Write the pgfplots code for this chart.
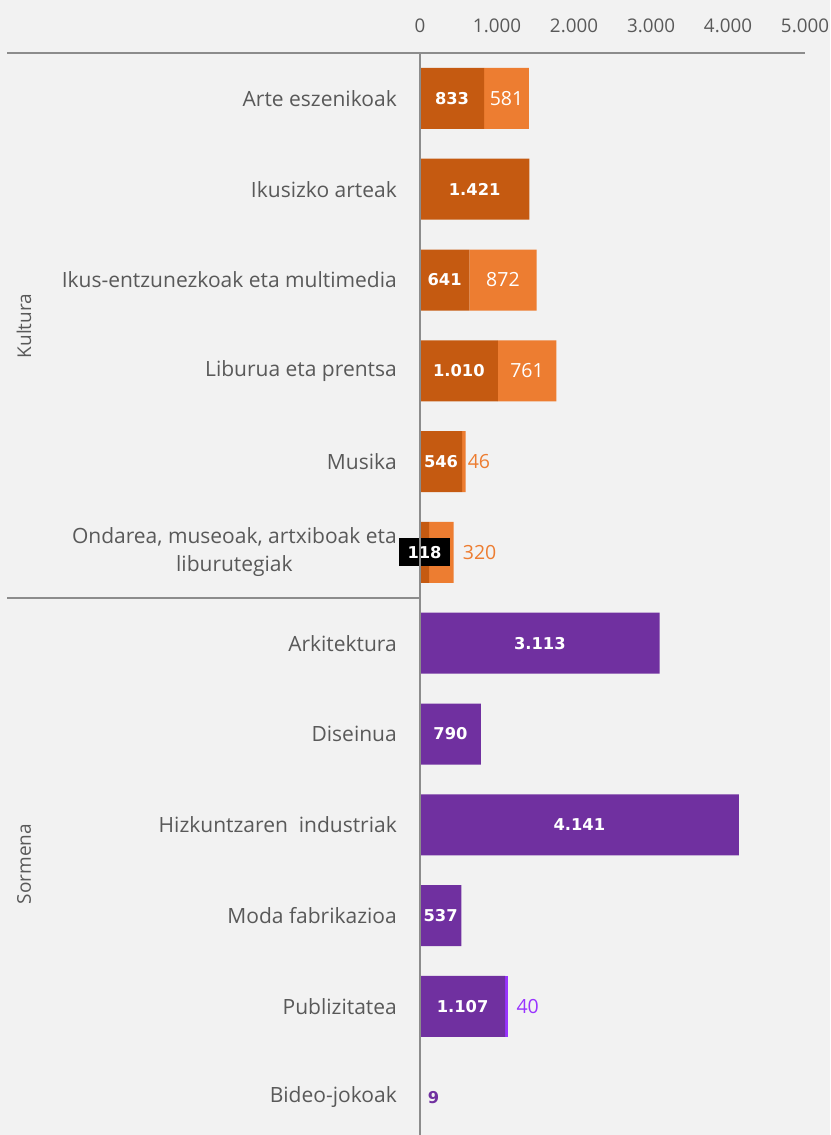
\documentclass[border=0pt]{standalone}
\usepackage{fontspec}
\setmainfont{Open Sans}
\newfontfamily\verd{DejaVu Sans}
\usepackage{pgfplots}
\usepackage{pgfplotstable}
\pgfplotsset{compat=1.18}
\definecolor{bg}{HTML}{F2F2F2}
\definecolor{dor}{HTML}{C55A11}
\definecolor{lor}{HTML}{ED7D31}
\definecolor{dpu}{HTML}{7030A0}
\definecolor{lpu}{HTML}{9933FF}
\definecolor{txt}{HTML}{595959}
\definecolor{axc}{HTML}{8C8C8C}
\pgfplotstableread{
y a b c d
0 833 581 0 0
1 1421 0 0 0
2 641 872 0 0
3 1010 761 0 0
4 546 46 0 0
5 118 320 0 0
6 0 0 3113 0
7 0 0 790 0
8 0 0 4141 0
9 0 0 537 0
10 0 0 1107 40
11 0 0 9 0
}\data
\newcommand{\lab}{\fontsize{18.8}{22}\selectfont}
\newcommand{\grp}{\fontsize{19}{22}\selectfont}
\newcommand{\cat}{\fontsize{21}{28}\selectfont}
\newcommand{\vb}{\verd\bfseries\fontsize{16.3}{18}\selectfont}
\newcommand{\vl}{\fontsize{19.5}{22}\selectfont}
\begin{document}
\begin{tikzpicture}
\path[use as bounding box, fill=bg] (0,0) rectangle (830pt,-1135pt);
\clip (0,0) rectangle (830pt,-1135pt);
\begin{axis}[
  at={(420pt,-53pt)}, anchor=north west,
  scale only axis, width=385pt, height=1089.6pt,
  xmin=0, xmax=5000, ymin=-0.5, ymax=11.5, y dir=reverse,
  xbar stacked, bar width=61pt,
  axis line style={draw=none},
  major tick length=0pt,
  xtick={0,1000,2000,3000,4000,5000},
  xticklabels={0,1.000,2.000,3.000,4.000,5.000},
  xticklabel pos=upper,
  xticklabel style={font=\lab, text=txt, yshift=17pt},
  ytick={0,...,11},
  yticklabels={Arte eszenikoak,Ikusizko arteak,Ikus-entzunezkoak eta multimedia,Liburua eta prentsa,Musika,{Ondarea, museoak, artxiboak eta\\liburutegiak},Arkitektura,Diseinua,Hizkuntzaren\ \ industriak,Moda fabrikazioa,Publizitatea,Bideo-jokoak},
  yticklabel style={font=\cat, text=txt, align=center, inner sep=0pt, xshift=-23pt},
  clip=false,
]
\addplot[fill=dor, draw=none] table[x=a,y=y]{\data};
\addplot[fill=lor, draw=none] table[x=b,y=y]{\data};
\addplot[fill=dpu, draw=none] table[x=c,y=y]{\data};
\addplot[fill=lpu, draw=none] table[x=d,y=y]{\data};
\coordinate (d0) at (axis cs:416,0);
\coordinate (d1) at (axis cs:710,1);
\coordinate (d2) at (axis cs:320,2);
\coordinate (d3) at (axis cs:505,3);
\coordinate (d4) at (axis cs:273,4);
\coordinate (d5) at (axis cs:59,5);
\coordinate (d6) at (axis cs:1556,6);
\coordinate (d7) at (axis cs:395,7);
\coordinate (d8) at (axis cs:2070,8);
\coordinate (d9) at (axis cs:268,9);
\coordinate (d10) at (axis cs:553,10);
\coordinate (d11) at (axis cs:9,11);
\coordinate (l0) at (axis cs:1123,0);
\coordinate (l2) at (axis cs:1077,2);
\coordinate (l3) at (axis cs:1390,3);
\coordinate (l4) at (axis cs:592,4);
\coordinate (l5) at (axis cs:438,5);
\coordinate (l10) at (axis cs:1147,10);
\end{axis}
% dark labels
\node[text=white, font=\vb] at (d0) {833};
\node[text=white, font=\vb] at (d1) {1.421};
\node[text=white, font=\vb] at (d2) {641};
\node[text=white, font=\vb] at (d3) {1.010};
\node[text=white, font=\vb] at (d4) {546};
\node[text=white, fill=black, font=\vb, minimum width=51pt, minimum height=28pt, inner sep=0pt] at (d5) {118};
\node[text=white, font=\vb] at (d6) {3.113};
\node[text=white, font=\vb] at (d7) {790};
\node[text=white, font=\vb] at (d8) {4.141};
\node[text=white, font=\vb] at (d9) {537};
\node[text=white, font=\vb] at (d10) {1.107};
\node[text=dpu, font=\vb, anchor=west, inner sep=0pt, xshift=7pt] at (d11) {9};
% light labels
\node[text=white, font=\vl] at (l0) {581};
\node[text=white, font=\vl] at (l2) {872};
\node[text=white, font=\vl] at (l3) {761};
\node[text=lor, font=\vl, anchor=west, inner sep=0pt, xshift=2pt] at (l4) {46};
\node[text=lor, font=\vl, anchor=west, inner sep=0pt, xshift=9pt] at (l5) {320};
\node[text=lpu, font=\vl, anchor=west, inner sep=0pt, xshift=8pt] at (l10) {40};
\draw[axc, line width=2pt] (7pt,-53pt) -- (805pt,-53pt);
\draw[axc, line width=2pt] (420pt,-53pt) -- (420pt,-1140pt);
\draw[axc, line width=2pt] (7pt,-598pt) -- (420pt,-598pt);
\node[rotate=90, font=\grp, text=txt] at (24pt,-326pt) {Kultura};
\node[rotate=90, font=\grp, text=txt] at (24pt,-864pt) {Sormena};
\end{tikzpicture}
\end{document}
